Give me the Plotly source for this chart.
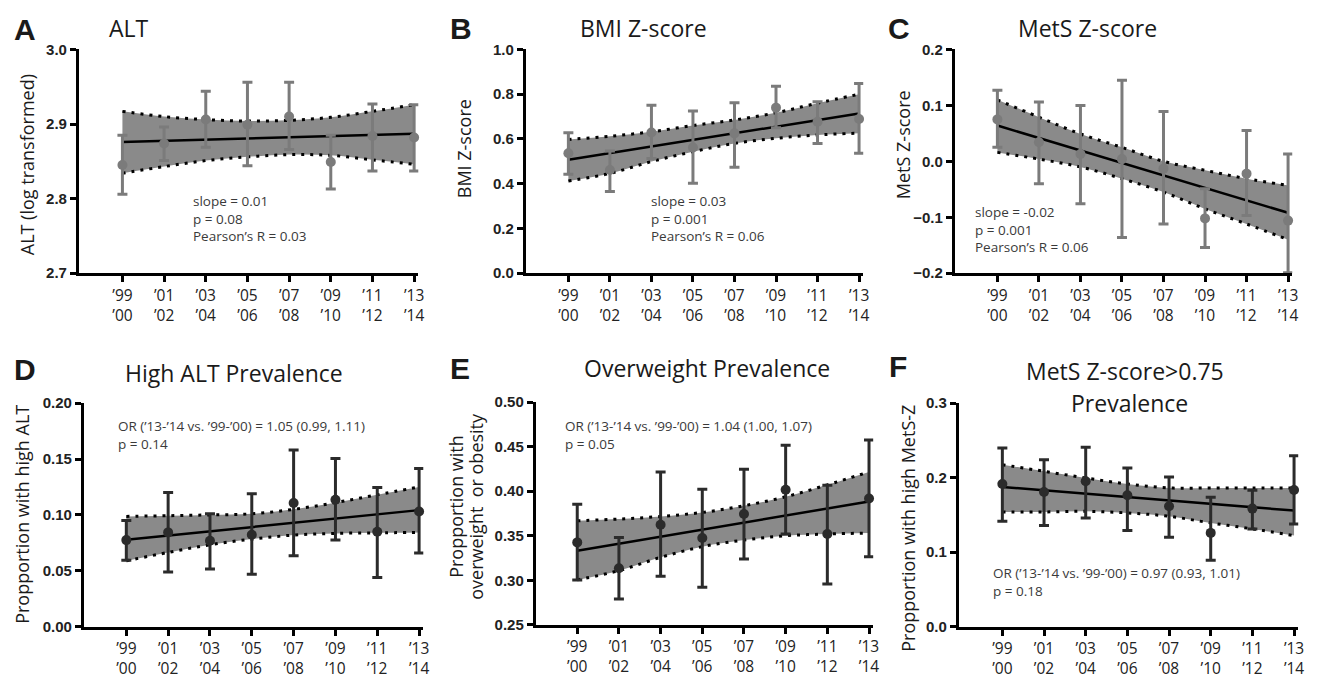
import plotly.graph_objects as go

# Measured page placement: picture_x = fig_x + 8, picture_y = 15.5 + 0.976 * fig_y
W, H = 1303, 677
OX = 8
TOP = 15.5
SY = 0.976


def fx(x):
    return (x - OX) / W


def fy(y):
    return 1 - ((y - TOP) / SY) / H


cycles = ["’99<br>’00", "’01<br>’02", "’03<br>’04", "’05<br>’06",
          "’07<br>’08", "’09<br>’10", "’11<br>’12", "’13<br>’14"]

# ---- Panel A: ALT ----
alt_mean = [2.845, 2.874, 2.906, 2.899, 2.910, 2.849, 2.884, 2.882]
alt_hi = [2.885, 2.896, 2.944, 2.956, 2.956, 2.885, 2.927, 2.926]
alt_lo = [2.806, 2.851, 2.869, 2.844, 2.866, 2.813, 2.837, 2.837]
alt_fit = [2.876, 2.887]
alt_band_up = [2.917, 2.910, 2.906, 2.904, 2.905, 2.909, 2.917, 2.926]
alt_band_lo = [2.834, 2.843, 2.851, 2.856, 2.859, 2.858, 2.852, 2.846]

# ---- Panel B: BMI Z-score ----
bmi_mean = [0.536, 0.461, 0.629, 0.562, 0.625, 0.740, 0.677, 0.689]
bmi_hi = [0.628, 0.546, 0.751, 0.725, 0.762, 0.836, 0.766, 0.848]
bmi_lo = [0.442, 0.365, 0.513, 0.402, 0.473, 0.650, 0.580, 0.536]
bmi_fit = [0.507, 0.714]
bmi_band_up = [0.598, 0.612, 0.632, 0.660, 0.685, 0.717, 0.760, 0.800]
bmi_band_lo = [0.412, 0.446, 0.499, 0.543, 0.580, 0.603, 0.618, 0.626]

# ---- Panel C: MetS Z-score ----
mets_mean = [0.075, 0.034, 0.013, 0.004, -0.013, -0.102, -0.022, -0.106]
mets_hi = [0.127, 0.106, 0.100, 0.145, 0.089, -0.049, 0.055, 0.013]
mets_lo = [0.025, -0.040, -0.076, -0.136, -0.112, -0.154, -0.097, -0.199]
mets_fit = [0.064, -0.092]
mets_band_up = [0.110, 0.079, 0.049, 0.025, 0.000, -0.016, -0.031, -0.043]
mets_band_lo = [0.016, 0.004, -0.010, -0.031, -0.055, -0.085, -0.112, -0.140]

# ---- Panel D: High ALT prevalence ----
halt_mean = [0.0775, 0.0844, 0.0769, 0.0823, 0.1106, 0.1136, 0.0850, 0.1031]
halt_hi = [0.0950, 0.1200, 0.1010, 0.1190, 0.1580, 0.1505, 0.1246, 0.1416]
halt_lo = [0.0596, 0.0490, 0.0516, 0.0470, 0.0635, 0.0775, 0.0441, 0.0659]
halt_fit = [0.0778, 0.1043]
halt_band_up = [0.0987, 0.0993, 0.1000, 0.1010, 0.1050, 0.1110, 0.1180, 0.1250]
halt_band_lo = [0.0590, 0.0665, 0.0733, 0.0784, 0.0820, 0.0835, 0.0840, 0.0844]

# ---- Panel E: Overweight prevalence ----
ow_mean = [0.3425, 0.3134, 0.3623, 0.3474, 0.3743, 0.4015, 0.3519, 0.3918]
ow_hi = [0.3854, 0.3481, 0.4216, 0.4022, 0.4246, 0.4515, 0.4067, 0.4575]
ow_lo = [0.3004, 0.2791, 0.3045, 0.2922, 0.3239, 0.3519, 0.2959, 0.3265]
ow_fit = [0.3332, 0.3884]
ow_band_up = [0.3668, 0.3687, 0.3716, 0.3761, 0.3836, 0.3937, 0.4071, 0.4216]
ow_band_lo = [0.3004, 0.3108, 0.3257, 0.3377, 0.3451, 0.3500, 0.3519, 0.3530]

# ---- Panel F: MetS Z-score>0.75 prevalence ----
hm_mean = [0.1915, 0.1808, 0.1951, 0.1763, 0.1616, 0.1259, 0.1585, 0.1835]
hm_hi = [0.2397, 0.2241, 0.2406, 0.2129, 0.2009, 0.1737, 0.1830, 0.2295]
hm_lo = [0.1415, 0.1357, 0.1460, 0.1290, 0.1201, 0.0893, 0.1313, 0.1380]
hm_fit = [0.1875, 0.1558]
hm_band_up = [0.2174, 0.2085, 0.1996, 0.1915, 0.1862, 0.1862, 0.1862, 0.1862]
hm_band_lo = [0.1540, 0.1540, 0.1549, 0.1527, 0.1482, 0.1393, 0.1313, 0.1223]

FONT = "Open Sans"
BOLD = "Liberation Sans"

panels = [
    dict(letter="A", title=["ALT"], ylab=["ALT (log transformed)"],
         mean=alt_mean, hi=alt_hi, lo=alt_lo, fit=alt_fit, up=alt_band_up, dn=alt_band_lo,
         yr=[2.7, 3.0], dt=0.1, fmt=".1f", px=(79, 416, 48, 272), xl=-1.05,
         ecol="#7b7b7b", stats=["slope = 0.01", "p = 0.08", "Pearson’s R = 0.03"],
         sx=192, sy=198, ttl=[(130, 27)], let=(25, 28), yl=[(27, 163)]),
    dict(letter="B", title=["BMI Z-score"], ylab=["BMI Z-score"],
         mean=bmi_mean, hi=bmi_hi, lo=bmi_lo, fit=bmi_fit, up=bmi_band_up, dn=bmi_band_lo,
         yr=[0.0, 1.0], dt=0.2, fmt=".1f", px=(528, 863, 48, 272), xl=-1.03,
         ecol="#7b7b7b", stats=["slope = 0.03", "p = 0.001", "Pearson’s R = 0.06"],
         sx=652, sy=198, ttl=[(646, 27)], let=(463, 27), yl=[(466, 147)]),
    dict(letter="C", title=["MetS Z-score"], ylab=["MetS Z-score"],
         mean=mets_mean, hi=mets_hi, lo=mets_lo, fit=mets_fit, up=mets_band_up, dn=mets_band_lo,
         yr=[-0.2, 0.2], dt=0.1, fmt=".1f", px=(959, 1294, 48, 272), xl=-1.03,
         ecol="#7b7b7b", stats=["slope = -0.02", "p = 0.001", "Pearson’s R = 0.06"],
         sx=977, sy=209, ttl=[(1092, 27)], let=(903, 27), yl=[(907, 143)]),
    dict(letter="D", title=["High ALT Prevalence"], ylab=["Propportion with high ALT"],
         mean=halt_mean, hi=halt_hi, lo=halt_lo, fit=halt_fit, up=halt_band_up, dn=halt_band_lo,
         yr=[0.0, 0.2], dt=0.05, fmt=".2f", px=(84, 421, 402, 626), xl=-1.02,
         ecol="#2b2b2b", stats=["OR (’13-’14 vs. ’99-’00) = 1.05 (0.99, 1.11)", "p = 0.14"],
         sx=116, sy=423, ttl=[(235, 372)], let=(25, 368), yl=[(22, 513)]),
    dict(letter="E", title=["Overweight Prevalence"], ylab=["Propportion with", "overweight  or obesity"],
         mean=ow_mean, hi=ow_hi, lo=ow_lo, fit=ow_fit, up=ow_band_up, dn=ow_band_lo,
         yr=[0.25, 0.5], dt=0.05, fmt=".2f", px=(538, 873, 401, 624), xl=-1.0,
         ecol="#2b2b2b", stats=["OR (’13-’14 vs. ’99-’00) = 1.04 (1.00, 1.07)", "p = 0.05"],
         sx=566, sy=423, ttl=[(710, 367)], let=(462, 367), yl=[(458, 505), (478, 505)]),
    dict(letter="F", title=["MetS Z-score>0.75", "Prevalence"], ylab=["Propportion with high MetS-Z"],
         mean=hm_mean, hi=hm_hi, lo=hm_lo, fit=hm_fit, up=hm_band_up, dn=hm_band_lo,
         yr=[0.0, 0.3], dt=0.1, fmt=".1f", px=(963, 1300, 402, 626), xl=-1.05,
         ecol="#2b2b2b", stats=["OR (’13-’14 vs. ’99-’00) = 0.97 (0.93, 1.01)", "p = 0.18"],
         sx=996, sy=570, ttl=[(1130, 370), (1135, 402)], let=(902, 365), yl=[(912, 527)]),
]

fig = go.Figure()
annotations = []
layout = {}


def ann(text, x, y, size, family, color, angle=0, xanchor="center", yanchor="middle", align="center"):
    annotations.append(dict(text=text, x=fx(x), y=fy(y), xref="paper", yref="paper",
                            showarrow=False, textangle=angle, xanchor=xanchor, yanchor=yanchor,
                            align=align, font=dict(family=family, size=size, color=color)))


for i, p in enumerate(panels):
    n = "" if i == 0 else str(i + 1)
    xa, ya = "x" + n, "y" + n
    x0, x1, yt, yb = p["px"]
    fig.add_trace(go.Scatter(x=cycles, y=p["dn"], mode="lines", xaxis=xa, yaxis=ya,
                             line=dict(color="black", width=3, dash="3px,6px", shape="spline"),
                             showlegend=False, hoverinfo="skip"))
    fig.add_trace(go.Scatter(x=cycles, y=p["up"], mode="lines", xaxis=xa, yaxis=ya,
                             fill="tonexty", fillcolor="#8a8a8a",
                             line=dict(color="black", width=3, dash="3px,6px", shape="spline"),
                             showlegend=False, hoverinfo="skip"))
    fig.add_trace(go.Scatter(x=[cycles[0], cycles[-1]], y=p["fit"], mode="lines",
                             xaxis=xa, yaxis=ya, line=dict(color="black", width=2.5),
                             showlegend=False, hoverinfo="skip"))
    fig.add_trace(go.Scatter(
        x=cycles, y=p["mean"], mode="markers", xaxis=xa, yaxis=ya, cliponaxis=False,
        marker=dict(color=p["ecol"], size=10),
        error_y=dict(type="data", symmetric=False,
                     array=[h - m for h, m in zip(p["hi"], p["mean"])],
                     arrayminus=[m - l for m, l in zip(p["mean"], p["lo"])],
                     color=p["ecol"], thickness=3, width=5),
        showlegend=False))

    tickvals = []
    v = p["yr"][0]
    while v <= p["yr"][1] + 1e-9:
        tickvals.append(round(v, 4))
        v += p["dt"]
    rx = 7.1
    x1e = x1 + (rx - 7) * (x1 - x0) / (7 - p["xl"])
    layout["xaxis" + n] = dict(
        domain=[fx(x0), min(fx(x1e), 1)], anchor=ya, type="category",
        range=[p["xl"], rx], showgrid=False, zeroline=False,
        showline=True, linecolor="black", linewidth=2.5,
        ticks="outside", ticklen=6, tickwidth=2.5, tickcolor="black",
        tickfont=dict(family=FONT, size=15.5, color="#222"), tickangle=0,
    )
    layout["yaxis" + n] = dict(
        domain=[fy(yb), fy(yt)], anchor=xa, range=p["yr"],
        showgrid=False, zeroline=False, showline=True, linecolor="black", linewidth=2.5,
        ticks="outside", ticklen=6, tickwidth=2.5, tickcolor="black",
        tickvals=tickvals, tickformat=p["fmt"],
        tickfont=dict(family=BOLD, size=15, color="#222", weight="bold"),
    )
    ann("<b>" + p["letter"] + "</b>", p["let"][0], p["let"][1], 30, BOLD, "#1a1a1a")
    for t, (tx, ty) in zip(p["title"], p["ttl"]):
        ann(t, tx, ty, 23, FONT, "#1a1a1a")
    for t, (lx, ly) in zip(p["ylab"], p["yl"]):
        ann(t, lx, ly, 18, FONT, "#1a1a1a", angle=-90)
    ann("<br>".join(p["stats"]), p["sx"], p["sy"] - 9, 13.5, FONT, "#3a3a3a",
        xanchor="left", yanchor="top", align="left")

fig.update_layout(width=W, height=H, margin=dict(l=0, r=0, t=0, b=0),
                  plot_bgcolor="white", paper_bgcolor="white",
                  annotations=annotations, **layout)
fig.write_html("out.html")
